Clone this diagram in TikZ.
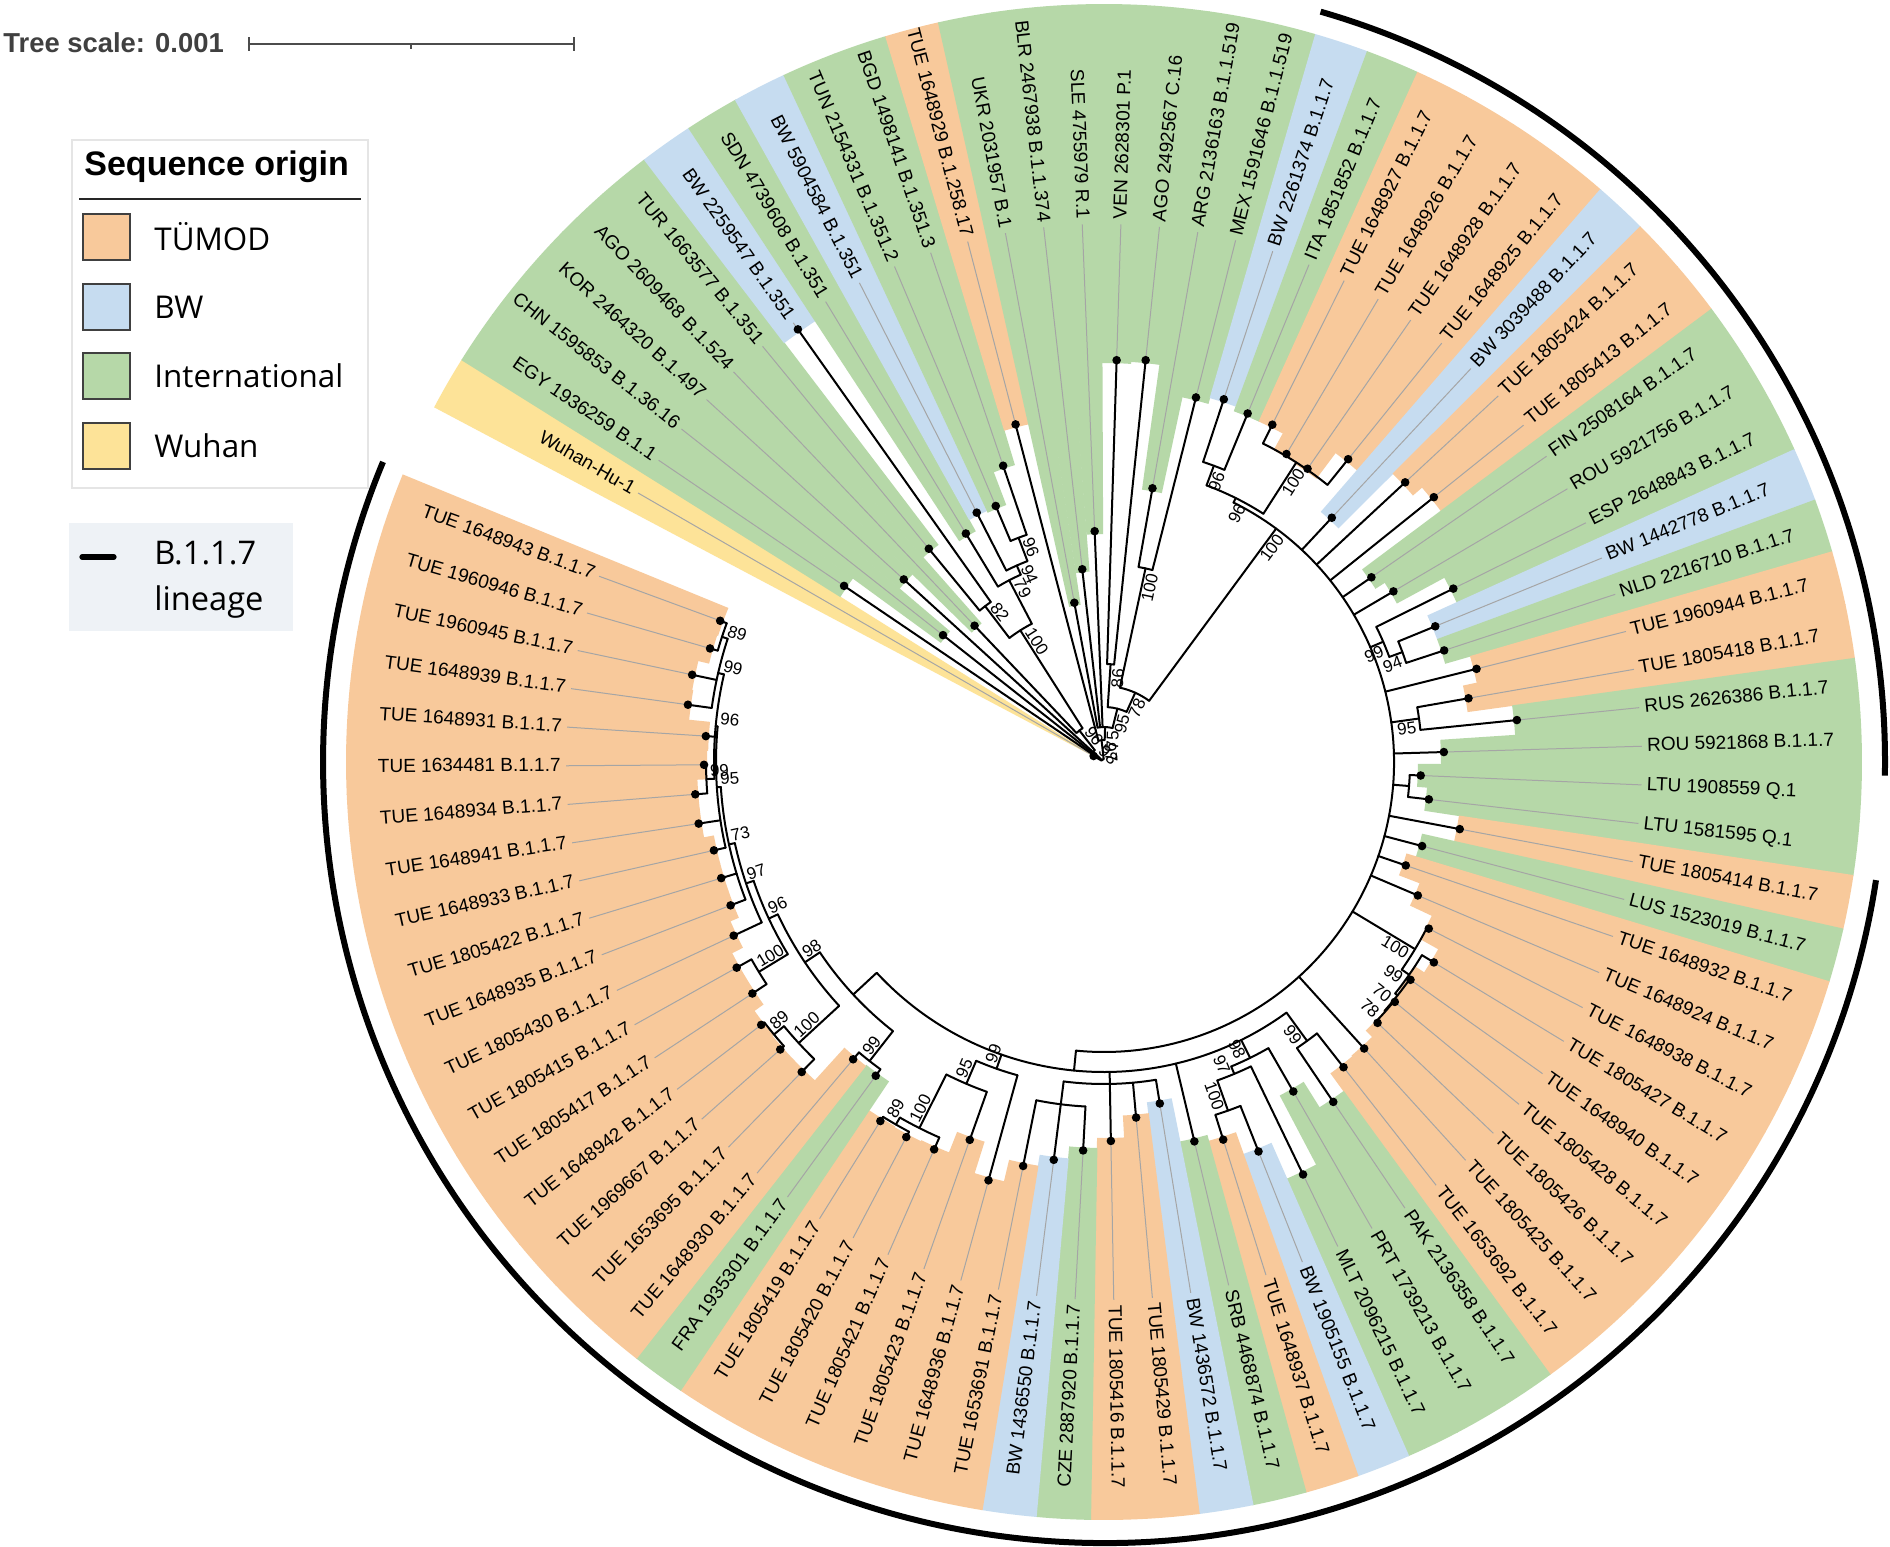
\documentclass[tikz,border=0pt]{standalone}
\usepackage{fontspec}
\setmainfont{Liberation Sans}
\newfontfamily\osans{Open Sans}
\definecolor{cO}{RGB}{248,201,155}
\definecolor{cB}{RGB}{198,220,240}
\definecolor{cG}{RGB}{182,216,168}
\definecolor{cY}{RGB}{253,227,152}
\definecolor{lgray}{RGB}{165,165,165}
\definecolor{linbg}{RGB}{238,242,246}
\tikzset{
  br/.style={line width=1pt, line cap=round, line join=round},
  bs/.style={font=\fontsize{8.5}{9}\selectfont, inner sep=0.8pt},
  lab/.style={font=\fontsize{9.5}{11}\selectfont, inner sep=0pt},
  legtxt/.style={anchor=west, font=\osans\fontsize{15.7}{17}\selectfont, inner sep=0pt},
  legsq/.style={draw=black!75, line width=0.6pt}
}
\def\leaflist{1/3/12/cY/Wuhan-Hu-1,
2/15/314/cG/EGY 1936259 B.1.1,
3/15/205/cG/CHN 1595853 B.1.36.16,
4/15/271/cG/KOR 2464320 B.1.497,
5/40/188/cG/AGO 2609468 B.1.524,
6/196/276/cG/TUR 1663577 B.1.351,
7/196/530/cB/BW 2259547 B.1.351,
8/205/267/cG/SDN 4739608 B.1.351,
9/215/280/cB/BW 5904584 B.1.351,
10/240/278/cG/TUN 2154331 B.1.351.2,
11/240/313/cG/BGD 1498141 B.1.351.3,
12/22/349/cO/TUE 1648929 B.1.258.17,
13/35/162/cG/UKR 2031957 B.1,
14/35/194/cG/BLR 2467938 B.1.1.374,
15/35/231/cG/SLE 4755979 R.1,
16/98/402/cG/VEN 2628301 P.1,
17/98/404/cG/AGO 2492567 C.16,
18/198/278/cG/ARG 2136163 B.1.1.519,
19/198/376/cG/MEX 1591646 B.1.1.519,
20/316/382/cB/BW 2261374 B.1.1.7,
21/316/377/cG/ITA 1851852 B.1.1.7,
22/356/377/cO/TUE 1648927 B.1.1.7,
23/356/358/cO/TUE 1648926 B.1.1.7,
24/356/357/cO/TUE 1648928 B.1.1.7,
25/356/389/cO/TUE 1648925 B.1.1.7,
26/290/334/cB/BW 3039488 B.1.1.7,
27/290/411/cO/TUE 1805424 B.1.1.7,
28/290/423/cO/TUE 1805413 B.1.1.7,
29/290/325/cG/FIN 2508164 B.1.1.7,
30/290/336/cG/ROU 5921756 B.1.1.7,
31/304/390/cG/ESP 2648843 B.1.1.7,
32/318/358/cB/BW 1442778 B.1.1.7,
33/318/358/cG/NLD 2216710 B.1.1.7,
34/290/384/cO/TUE 1960944 B.1.1.7,
35/318/370/cO/TUE 1805418 B.1.1.7,
36/318/415/cG/RUS 2626386 B.1.1.7,
37/290/340/cG/ROU 5921868 B.1.1.7,
38/306/317/cG/LTU 1908559 Q.1,
39/306/327/cG/LTU 1581595 Q.1,
40/290/362/cO/TUE 1805414 B.1.1.7,
41/290/329/cG/LUS 1523019 B.1.1.7,
42/290/319/cO/TUE 1648932 B.1.1.7,
43/290/341/cO/TUE 1648924 B.1.1.7,
44/363/365/cO/TUE 1648938 B.1.1.7,
45/372/386/cO/TUE 1805427 B.1.1.7,
46/375/376/cO/TUE 1648940 B.1.1.7,
47/376/377/cO/TUE 1805428 B.1.1.7,
48/376/378/cO/TUE 1805426 B.1.1.7,
49/290/387/cO/TUE 1805425 B.1.1.7,
50/345/388/cO/TUE 1653692 B.1.1.7,
51/345/410/cG/PAK 2136358 B.1.1.7,
52/330/380/cG/PRT 1739213 B.1.1.7,
53/338/458/cG/MLT 2096215 B.1.1.7,
54/370/419/cB/BW 1905155 B.1.1.7,
55/370/396/cO/TUE 1648937 B.1.1.7,
56/310/390/cG/SRB 4468874 B.1.1.7,
57/322/346/cB/BW 1436572 B.1.1.7,
58/322/357/cO/TUE 1805429 B.1.1.7,
59/322/379/cO/TUE 1805416 B.1.1.7,
60/345/389/cG/CZE 2887920 B.1.1.7,
61/345/401/cB/BW 1436550 B.1.1.7,
62/345/412/cO/TUE 1653691 B.1.1.7,
63/325/434/cO/TUE 1648936 B.1.1.7,
64/350/401/cO/TUE 1805423 B.1.1.7,
65/410/423/cO/TUE 1805421 B.1.1.7,
66/418/424/cO/TUE 1805420 B.1.1.7,
67/418/423/cO/TUE 1805419 B.1.1.7,
68/380/388/cG/FRA 1935301 B.1.1.7,
69/380/389/cO/TUE 1648930 B.1.1.7,
70/415/433/cO/TUE 1653695 B.1.1.7,
71/428/433/cO/TUE 1969667 B.1.1.7,
72/428/432/cO/TUE 1648942 B.1.1.7,
73/404/421/cO/TUE 1805417 B.1.1.7,
74/404/421/cO/TUE 1805415 B.1.1.7,
75/378/409/cO/TUE 1805430 B.1.1.7,
76/384/400/cO/TUE 1648935 B.1.1.7,
77/384/400/cO/TUE 1805422 B.1.1.7,
78/388/400/cO/TUE 1648933 B.1.1.7,
79/388/410/cO/TUE 1648941 B.1.1.7,
80/398/410/cO/TUE 1648934 B.1.1.7,
81/398/400/cO/TUE 1634481 B.1.1.7,
82/390/399/cO/TUE 1648931 B.1.1.7,
83/396/420/cO/TUE 1648939 B.1.1.7,
84/396/421/cO/TUE 1960945 B.1.1.7,
85/402/410/cO/TUE 1960946 B.1.1.7,
86/402/409/cO/TUE 1648943 B.1.1.7}
% internal nodes: position/parent radius/radius/arc from/arc to/bootstrap (0 = none)
\def\nodelist{7.5/3/3/1/14/0,
4.17/3/15/2/6.34/98,
6.34/15/40/5/7.6875/96,
7.6875/40/156/6.5/8.875/100,
6.5/156/196/6/7/82,
8.875/156/205/8/9.75/79,
9.75/205/215/9/10.5/94,
10.5/215/240/10/11/96,
14/3/22/12/15.99/97,
15.99/22/35/13/18.98/75,
18.98/35/55/16.5/21.45/95,
16.5/55/98/16/17/86,
21.45/55/76/18.5/24.4/78,
18.5/76/198/18/19/100,
24.4/76/290/22/60.6/100,
22/290/295/20.5/23.5/96,
20.5/295/316/20/21/96,
23.5/295/356/22/25/100,
31.75/290/304/31/32.5/99,
32.5/304/318/32/33/94,
35.5/290/318/35/36/95,
38.5/290/306/38/39/0,
44.94/290/363/44/45.875/100,
45.875/363/372/45/46.75/99,
46.75/372/375/46/47.5/70,
47.5/375/376/47/48/78,
60.6/290/310/50.5/70.7/0,
50.5/310/345/50/51/99,
52.875/310/330/52/53.75/98,
53.75/330/338/53/54.5/97,
54.5/338/370/54/55/100,
59/310/322/57/61/0,
61/322/345/60/62/0,
63.94/310/325/63/64.875/99,
64.875/325/350/64/65.75/95,
65.75/350/410/65/66.5/100,
66.5/410/418/66/67/89,
70.7/310/342/68.5/72.89/0,
68.5/342/380/68/69/99,
72.89/342/360/70.75/75.02/98,
70.75/360/415/70/71.5/100,
71.5/415/428/71/72/89,
75.02/360/370/73.5/76.55/96,
73.5/370/404/73/74/100,
76.55/370/378/75/78.09/97,
78.09/378/384/76/80.19/73,
80.19/384/388/78/82.375/95,
82.375/388/390/80.5/84.25/96,
80.5/390/398/80/81/99,
84.25/390/396/83/85.5/99,
85.5/396/402/85/86/89}
\begin{document}
\begin{tikzpicture}[x=0.5pt,y=0.5pt]
\useasboundingbox (0,0) rectangle (1890,-1547);
\fill[white] (0,0) rectangle (1890,-1547);
\begin{scope}[shift={(1104,-762)}]
  % coloured ranges
  \foreach \i/\rp/\rt/\c/\txt in \leaflist {
    \pgfmathsetmacro{\ta}{150-(\i-1)*4.12-2.1}
    \pgfmathsetmacro{\tb}{150-(\i-1)*4.12+2.1}
    \pgfmathsetmacro{\ri}{max(\rt-3,1)}
    \pgfmathsetmacro{\rr}{\ri*0.5}
    \fill[\c] (\ta:\ri) arc[start angle=\ta, end angle=\tb, radius=\rr pt]
      -- (\tb:758) arc[start angle=\tb, end angle=\ta, radius=379pt] -- cycle;
  }
  % guide lines and leaf labels
  \foreach \i/\rp/\rt/\c/\txt in \leaflist {
    \pgfmathsetmacro{\t}{150-(\i-1)*4.12}
    \pgfmathtruncatemacro{\fl}{abs(\t)>90}
    \draw[lgray, line width=0.5pt] (\t:\rt) -- (\t:538);
    \ifnum\fl=1
      \node[lab, anchor=mid east, rotate=\t+180] (leaf\i) at (\t:543) {\txt};
    \else
      \node[lab, anchor=mid west, rotate=\t] (leaf\i) at (\t:543) {\txt};
    \fi
  }
  % internal nodes
  \foreach \p/\rp/\r/\a/\b/\lab in \nodelist {
    \pgfmathsetmacro{\nph}{150-(\p-1)*4.12}
    \pgfmathsetmacro{\aa}{150-(\a-1)*4.12}
    \pgfmathsetmacro{\bb}{150-(\b-1)*4.12}
    \pgfmathsetmacro{\rr}{\r*0.5}
    \pgfmathsetmacro{\rl}{\r-2}
    \draw[br] (\nph:\rp) -- (\nph:\r);
    \draw[br] (\aa:\r) arc[start angle=\aa, end angle=\bb, radius=\rr pt];
    \ifnum\lab>0
      \pgfmathtruncatemacro{\fl}{abs(\nph)>90}
      \ifnum\fl=1
        \node[bs, anchor=south west, rotate=\nph+180] at (\nph:\rl) {\lab};
      \else
        \node[bs, anchor=north east, rotate=\nph] at (\nph:\rl) {\lab};
      \fi
    \fi
  }
  % leaf branches and tip dots
  \foreach \i/\rp/\rt/\c/\txt in \leaflist {
    \pgfmathsetmacro{\t}{150-(\i-1)*4.12}
    \draw[br] (\t:\rp) -- (\t:\rt);
    \fill (\t:\rt) circle[radius=2.15pt];
  }
  % B.1.1.7 lineage arcs
  \draw[line width=3pt] (73.9:781) arc[start angle=73.9, end angle=-1.0, radius=390.5pt];
  \draw[line width=3pt] (-8.7:781) arc[start angle=-8.7, end angle=-202.6, radius=390.5pt];
\end{scope}
% tree scale
\node[anchor=west, inner sep=0pt, text=black!75, font=\bfseries\fontsize{13.7}{15}\selectfont] (ts) at (3,-43) {Tree scale: 0.001};
\coordinate (sbL) at (249,-44);
\coordinate (sbR) at (574,-44);
\draw[black!70, line width=0.8pt] (sbL) -- (sbR);
\draw[black!70, line width=0.8pt] (249,-37) -- (249,-51);
\draw[black!70, line width=0.8pt] (574,-37) -- (574,-51);
\draw[black!70, line width=0.8pt] (411,-44) -- (411,-49);
% legend
\draw[black!10, line width=0.6pt, fill=white] (72,-140) rectangle (368,-488);
\node[anchor=west, inner sep=0pt, font=\bfseries\fontsize{17}{19}\selectfont] (lt) at (84,-167) {Sequence origin};
\draw[black!85, line width=0.8pt] (79,-199) -- (361,-199);
\filldraw[legsq, fill=cO] (83,-214) rectangle (130,-260);
\filldraw[legsq, fill=cB] (83,-284) rectangle (130,-330);
\filldraw[legsq, fill=cG] (83,-353) rectangle (130,-399);
\filldraw[legsq, fill=cY] (83,-423) rectangle (130,-469);
\node[legtxt] (l1) at (154,-237) {TÜMOD};
\node[legtxt] (l2) at (154,-307) {BW};
\node[legtxt] (l3) at (154,-376) {International};
\node[legtxt] (l4) at (154,-446) {Wuhan};
\fill[linbg] (69,-523) rectangle (293,-631);
\draw[line width=2.6pt, line cap=round] (82,-557) -- (114,-557);
\node[legtxt, font=\osans\fontsize{16.3}{18}\selectfont] (l5) at (154,-553) {B.1.1.7};
\node[legtxt, font=\osans\fontsize{16.3}{18}\selectfont] (l6) at (154,-602) {lineage};
\end{tikzpicture}
\end{document}
